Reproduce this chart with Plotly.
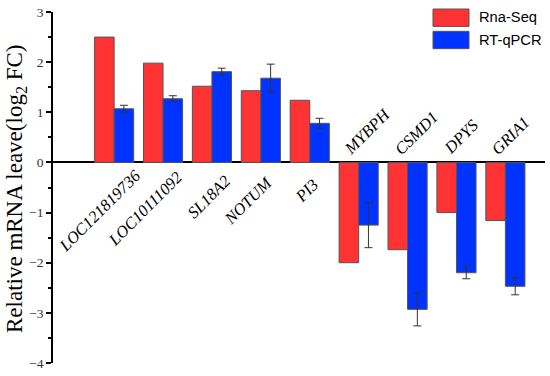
import plotly.graph_objects as go

genes = ["LOC121819736", "LOC10111092", "SL18A2", "NOTUM", "PI3",
         "MYBPH", "CSMD1", "DPYS", "GRIA1"]
rna_seq = [2.50, 1.98, 1.52, 1.43, 1.24, -2.00, -1.74, -1.00, -1.16]
rt_qpcr = [1.07, 1.27, 1.81, 1.68, 0.78, -1.25, -2.93, -2.20, -2.47]
rt_qpcr_err = [0.07, 0.06, 0.07, 0.28, 0.10, 0.45, 0.33, 0.12, 0.17]
y_ticks = [-4, -3, -2, -1, 0, 1, 2, 3]

# label placement (pixel offsets of label centre from group centre / zero line)
label_dx = [-14, -17.5, -2.5, -12.5, -3, 8.5, 8.5, 5, 5.5]
label_dy = [-48.5, -46.5, -34.5, -38, -28, 30.5, 29, 25.5, 26.5]

RED = "#FF3333"
BLUE = "#0033FF"
serif = "Liberation Serif, Times New Roman, serif"
sans = "Liberation Sans, Arial, sans-serif"

fig = go.Figure()
fig.add_trace(go.Bar(x=genes, y=rna_seq, name="Rna-Seq",
                     marker=dict(color=RED, line=dict(color="#555555", width=1))))
fig.add_trace(go.Bar(x=genes, y=rt_qpcr, name="RT-qPCR",
                     marker=dict(color=BLUE, line=dict(color="#555555", width=1)),
                     error_y=dict(type="data", array=rt_qpcr_err, color="#333333",
                                  thickness=1, width=4)))

# gene labels
for g, dx, dy in zip(genes, label_dx, label_dy):
    fig.add_annotation(x=g, y=0, text=g, showarrow=False, textangle=-45,
                       xanchor="center", yanchor="middle", xshift=dx, yshift=dy,
                       font=dict(family=serif, size=16.5, color="black", style="italic"))

# y title
fig.add_annotation(xref="paper", yref="paper", x=-0.075, y=0.496,
                   text="Relative mRNA leave(log<sub>2</sub> FC)", textangle=-90,
                   showarrow=False, xanchor="center", yanchor="middle",
                   font=dict(family=serif, size=23, color="black"))

# legend (manual)
leg_items = [("Rna-Seq", RED), ("RT-qPCR", BLUE)]
for i, (name, col) in enumerate(leg_items):
    y0 = 7 + i * 22.5
    fig.add_shape(type="rect", xref="paper", yref="paper",
                  x0=(433 - 53) / 492, x1=(469 - 53) / 492,
                  y0=(364 - (y0 + 17.5)) / 354, y1=(364 - y0) / 354,
                  fillcolor=col, line=dict(color="#555555", width=1))
    fig.add_annotation(xref="paper", yref="paper", x=(477 - 53) / 492,
                       y=(364 - (y0 + 8.5)) / 354, text=name, showarrow=False,
                       xanchor="left", yanchor="middle",
                       font=dict(family=sans, size=14.7, color="black"))

fig.update_layout(
    width=550, height=376,
    margin=dict(l=53, r=5, t=10, b=12),
    paper_bgcolor="white", plot_bgcolor="white",
    barmode="group", bargap=0.2, bargroupgap=0,
    showlegend=False,
    xaxis=dict(range=[-1.25, 8.81], showticklabels=False, ticks="",
               showgrid=False, zeroline=False, showline=False),
    yaxis=dict(range=[-4, 3], tickvals=y_ticks, showgrid=False,
               zeroline=True, zerolinecolor="black", zerolinewidth=1.5,
               showline=True, linecolor="black", linewidth=1.5,
               ticks="outside", ticklen=5, tickwidth=1.5, tickcolor="black",
               minor=dict(dtick=0.5, ticks="outside", ticklen=3, tickwidth=1.5,
                          tickcolor="black"),
               tickfont=dict(family=serif, size=13.5, color="#333333")),
)

fig.write_html("out.html", config={"displayModeBar": False},
               post_script="document.body.style.margin='0';document.body.style.padding='0';")
